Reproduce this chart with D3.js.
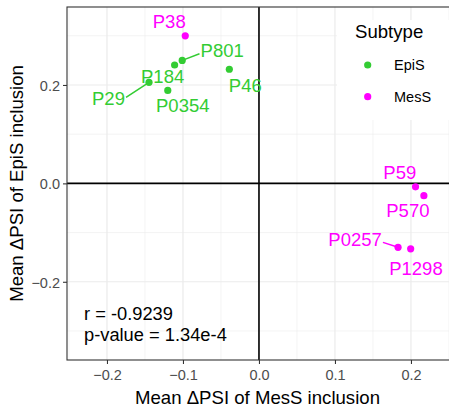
<!DOCTYPE html>
<html><head><meta charset="utf-8">
<script src="https://cdn.jsdelivr.net/npm/d3@7"></script>
<style>body{margin:0;background:#fff}svg{display:block;font-family:"Liberation Sans",Arial,Helvetica,sans-serif}</style>
</head><body><svg id="c" width="449" height="411"></svg>
<script>
// data
const samples = ["P38","P801","P184","P46","P29","P0354","P59","P570","P0257","P1298"];
const subtype = ["MesS","EpiS","EpiS","EpiS","EpiS","EpiS","MesS","MesS","MesS","MesS"];
const mesPSI  = [-0.097,-0.101,-0.111,-0.039,-0.1447,-0.120,0.206,0.217,0.183,0.1996];
const epiPSI  = [0.300,0.250,0.2406,0.232,0.2054,0.189,-0.007,-0.025,-0.130,-0.133];
const xTicks = [-0.2,-0.1,0.0,0.1,0.2];
const yTicks = [-0.2,0.0,0.2];
const subtypes = ["EpiS","MesS"];
const colors = ["#33cc33","#ff00ff"];
const stats = ["r = -0.9239","p-value = 1.34e-4"];
// label layout offsets (px) relative to point: [dx center, dy baseline, segment?]
const labelOffsets = [[-16,-7.5,0],[40,-3,1],[-12,18,0],[16,22.7,0],[-40.5,22.7,1],[15,21.7,0],[-15.7,-7.7,0],[-16,21.3,0],[-43,-1.3,1],[5.3,26.3,0]];

const svg = d3.select("#c");
const L=67,R=453,T=7,B=360;
const x = d3.scaleLinear().domain([-0.2526,0.2553]).range([L,R]);
const y = d3.scaleLinear().domain([0.3585,-0.359]).range([T,B]);
const col = d3.scaleOrdinal().domain(subtypes).range(colors);

const g = svg.append("g");
// minor grid
const xMinor=[-0.25,-0.15,-0.05,0.05,0.15,0.25], yMinor=[-0.3,-0.1,0.1,0.3];
g.selectAll(".xm").data(xMinor).join("line").attr("x1",d=>x(d)).attr("x2",d=>x(d)).attr("y1",T).attr("y2",B).attr("stroke","#ebebeb").attr("stroke-width",0.6);
g.selectAll(".ym").data(yMinor).join("line").attr("y1",d=>y(d)).attr("y2",d=>y(d)).attr("x1",L).attr("x2",R).attr("stroke","#ebebeb").attr("stroke-width",0.6);
g.selectAll(".xM").data(xTicks).join("line").attr("x1",d=>x(d)).attr("x2",d=>x(d)).attr("y1",T).attr("y2",B).attr("stroke","#ebebeb").attr("stroke-width",1.2);
g.selectAll(".yM").data(yTicks).join("line").attr("y1",d=>y(d)).attr("y2",d=>y(d)).attr("x1",L).attr("x2",R).attr("stroke","#ebebeb").attr("stroke-width",1.2);
// zero lines
g.append("line").attr("x1",x(0)).attr("x2",x(0)).attr("y1",T).attr("y2",B).attr("stroke","#000").attr("stroke-width",1.6);
g.append("line").attr("y1",y(0)).attr("y2",y(0)).attr("x1",L).attr("x2",R).attr("stroke","#000").attr("stroke-width",1.6);

// legend background
svg.append("rect").attr("x",337).attr("y",20).attr("width",120).attr("height",100).attr("fill","#fff");

// points and labels
const data = samples.map((s,i)=>({s,t:subtype[i],x:mesPSI[i],y:epiPSI[i],o:labelOffsets[i]}));
const fs=18.5;
data.forEach(d=>{
  if(d.o[2]){
    const px=x(d.x),py=y(d.y);
    const lx=px+d.o[0], ly=py+d.o[1]-fs*0.36;
    const w=d.s.length*fs*0.56/2+2;
    const ex = lx + (px>lx? w : -w);
    svg.append("line").attr("x1",px).attr("y1",py).attr("x2",ex).attr("y2",ly+ (py>ly?3:-1)).attr("stroke",col(d.t)).attr("stroke-width",1.5);
  }
});
svg.selectAll(".pt").data(data).join("circle").attr("cx",d=>x(d.x)).attr("cy",d=>y(d.y)).attr("r",3.6).attr("fill",d=>col(d.t));
svg.selectAll(".lb").data(data).join("text").attr("x",d=>x(d.x)+d.o[0]).attr("y",d=>y(d.y)+d.o[1])
  .attr("text-anchor","middle").attr("font-size",fs).attr("fill",d=>col(d.t)).text(d=>d.s);

// panel border
svg.append("rect").attr("x",L).attr("y",T).attr("width",R-L).attr("height",B-T).attr("fill","none").attr("stroke","#333").attr("stroke-width",1.1);

// axes
const xa = svg.append("g").attr("transform",`translate(0,${B})`).call(d3.axisBottom(x).tickValues(xTicks).tickFormat(d3.format(".1f")).tickSize(4).tickPadding(3));
const ya = svg.append("g").attr("transform",`translate(${L},0)`).call(d3.axisLeft(y).tickValues(yTicks).tickFormat(d3.format(".1f")).tickSize(4).tickPadding(3));
[xa,ya].forEach(a=>{a.select(".domain").remove();a.selectAll(".tick line").attr("stroke","#333").attr("stroke-width",1.1);
  a.selectAll(".tick text").attr("fill","#4d4d4d").attr("font-size",14.5).attr("font-family","Liberation Sans, Arial, sans-serif");});
xa.selectAll(".tick text").attr("dy","0.9em");
ya.selectAll(".tick text").attr("dy","0.36em");

// axis titles
svg.append("text").attr("x",257.5).attr("y",404).attr("text-anchor","middle").attr("font-size",18.6).text("Mean ΔPSI of MesS inclusion");
svg.append("text").attr("transform",`translate(23,${(T+B)/2}) rotate(-90)`).attr("text-anchor","middle").attr("font-size",18.6).text("Mean ΔPSI of EpiS inclusion");

// legend
svg.append("text").attr("x",355).attr("y",38).attr("font-size",18.6).text("Subtype");
const lg = svg.selectAll(".lg").data(subtypes).join("g").attr("transform",(d,i)=>`translate(0,${65+i*31.7})`);
lg.append("circle").attr("cx",367.7).attr("cy",0).attr("r",3.6).attr("fill",d=>col(d));
lg.append("text").attr("x",394).attr("y",0).attr("dy","0.36em").attr("font-size",14.5).text(d=>d);

// stats
svg.selectAll(".st").data(stats).join("text").attr("x",84).attr("y",(d,i)=>320+i*20.5).attr("font-size",18.3).text(d=>d);
</script></body></html>
